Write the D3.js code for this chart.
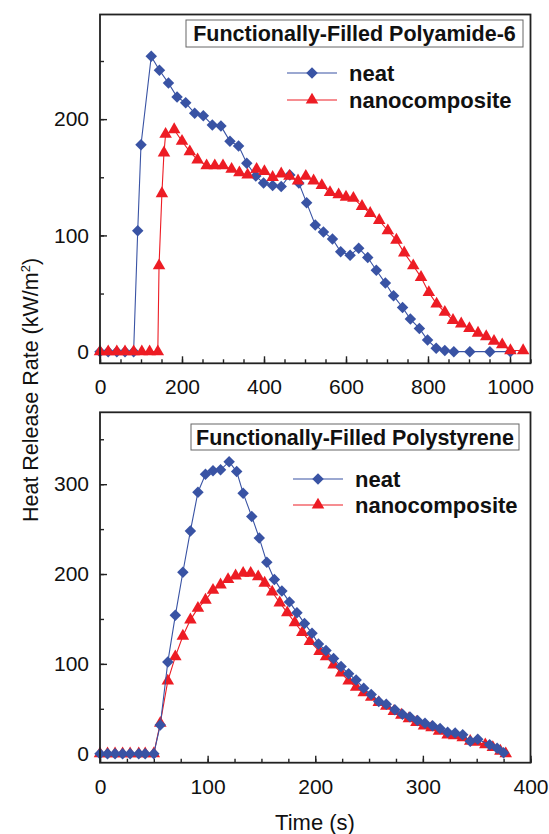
<!DOCTYPE html>
<html>
<head>
<meta charset="utf-8">
<script src="https://cdn.jsdelivr.net/npm/d3@7"></script>
<style>
  body { margin: 0; background: #fff; }
  svg { font-family: "Liberation Sans", Arial, sans-serif; }
</style>
</head>
<body>
<svg id="chart" width="549" height="834"></svg>
<script>
// Polyamide-6 panel (top)
var pa_neat_t = [0, 20, 41, 61, 82, 92, 100, 125, 145, 167, 188, 209, 231, 252, 274, 295, 317, 338, 358, 380,
  399, 421, 442, 463, 485, 504, 525, 545, 567, 587, 610, 631, 653, 674, 696, 716, 738, 757, 779, 799,
  820, 841, 863, 902, 951, 1001];
var pa_neat_hrr = [0, 0, 0, 0, 0, 104, 178, 254, 242, 231, 219, 214, 205, 203, 195, 194, 181, 177, 162, 151,
  145, 143, 142, 152, 145, 128, 109, 103, 97, 86, 83, 89, 81, 70, 59, 48, 38, 28, 20, 10,
  3, 1, 0, 0, 0, 0];
var pa_nano_t = [0, 20, 41, 61, 82, 102, 121, 141, 144, 151, 156, 160, 181, 200, 219, 238, 260, 280, 300, 321,
  340, 360, 382, 401, 421, 442, 462, 483, 502, 521, 541, 561, 582, 600, 618, 639, 659, 681, 702, 723,
  742, 764, 783, 802, 821, 841, 861, 881, 901, 922, 942, 961, 981, 1001, 1032];
var pa_nano_hrr = [0, 0, 0, 0, 0, 0, 0, 0, 74, 136, 171, 187, 191, 181, 172, 165, 160, 160, 160, 157,
  154, 152, 157, 155, 150, 153, 151, 147, 151, 147, 143, 137, 135, 133, 132, 125, 119, 113, 104, 96,
  85, 74, 64, 51, 41, 34, 27, 24, 20, 16, 13, 9, 6, 1, 1];

// Polystyrene panel (bottom)
var ps_neat_t = [0, 7, 14, 21, 28, 36, 42, 50, 56, 63, 70, 77, 84, 91, 98, 105, 112, 120, 127, 133,
  141, 148, 155, 162, 169, 176, 183, 190, 197, 203, 210, 217, 224, 231, 238, 245, 252, 259, 266, 274,
  281, 288, 295, 302, 309, 316, 323, 330, 337, 344, 351, 362, 369, 375];
var ps_neat_hrr = [0, 0, 0, 0, 0, 0, 0, 0, 32, 102, 154, 202, 248, 291, 311, 315, 316, 325, 314, 290,
  264, 240, 213, 194, 181, 169, 157, 145, 134, 122, 115, 106, 97, 89, 82, 73, 66, 58, 55, 49,
  44, 41, 37, 34, 31, 28, 24, 23, 21, 14, 16, 10, 6, 1];
var ps_nano_t = [0, 7, 14, 21, 28, 36, 42, 50, 56, 63, 70, 77, 84, 91, 98, 105, 112, 119, 126, 133,
  140, 147, 153, 160, 167, 174, 181, 188, 195, 204, 210, 217, 224, 231, 238, 245, 252, 259, 266, 273,
  280, 287, 294, 301, 308, 315, 323, 329, 337, 344, 350, 358, 365, 372, 377];
var ps_nano_hrr = [0, 0, 0, 0, 0, 0, 0, 0, 34, 81, 108, 131, 149, 162, 171, 182, 188, 194, 198, 201,
  201, 197, 190, 180, 168, 157, 146, 135, 125, 114, 108, 99, 90, 81, 74, 68, 63, 57, 53, 47,
  43, 39, 35, 31, 29, 25, 21, 20, 18, 14, 13, 10, 7, 3, 0];

var series_names = ["neat", "nanocomposite"];
var pa_x_ticks = [0, 200, 400, 600, 800, 1000];
var pa_y_ticks = [0, 100, 200];
var ps_x_ticks = [0, 100, 200, 300, 400];
var ps_y_ticks = [0, 100, 200, 300];

var blue = "#3953a4";
var red = "#ed1c24";

var svg = d3.select("#chart");

function zip(t, v) {
  return t.map(function(d, i) { return {t: d, v: v[i]}; });
}

function draw_panel(opts) {
  var x = d3.scaleLinear().domain(opts.xdom).range([opts.left, opts.right]);
  var y = d3.scaleLinear().domain(opts.ydom).range([opts.bottom, opts.top]);
  var g = svg.append("g");

  // minor ticks (inward, no labels)
  g.append("g")
    .attr("transform", "translate(0," + opts.bottom + ")")
    .call(d3.axisBottom(x).tickValues(d3.range(opts.xdom[0], opts.xdom[1] + 1, opts.xminor))
      .tickSize(-4).tickFormat(""));
  g.append("g")
    .attr("transform", "translate(" + opts.left + ",0)")
    .call(d3.axisLeft(y).tickValues(d3.range(0, opts.ydom[1], opts.yminor))
      .tickSize(-4).tickFormat(""));

  // major ticks
  var xa = g.append("g")
    .attr("transform", "translate(0," + opts.bottom + ")")
    .call(d3.axisBottom(x).tickValues(opts.xticks).tickFormat(d3.format("d"))
      .tickSize(-7).tickPadding(16));
  var ya = g.append("g")
    .attr("transform", "translate(" + opts.left + ",0)")
    .call(d3.axisLeft(y).tickValues(opts.yticks).tickFormat(d3.format("d"))
      .tickSize(-7).tickPadding(11));

  g.selectAll(".domain").remove();
  g.selectAll(".tick line").attr("stroke", "#222").attr("stroke-width", 1.4);
  xa.selectAll(".tick text").attr("font-size", 21).attr("font-family", null).attr("fill", "#111");
  ya.selectAll(".tick text").attr("font-size", 21).attr("font-family", null).attr("fill", "#111");

  var line = d3.line().x(function(d) { return x(d.t); }).y(function(d) { return y(d.v); });
  var diamond = d3.symbol().type(d3.symbolSquare).size(66);
  var triangle = d3.symbol().type(d3.symbolTriangle).size(68);

  var series = [
    {data: zip(opts.neat_t, opts.neat_v), color: blue, sym: diamond, rot: 45},
    {data: zip(opts.nano_t, opts.nano_v), color: red, sym: triangle, rot: 0}
  ];
  if (opts.neat_on_top) series.reverse();

  series.forEach(function(s) {
    g.append("path")
      .datum(s.data)
      .attr("fill", "none")
      .attr("stroke", s.color)
      .attr("stroke-width", 1.1)
      .attr("d", line);
    g.selectAll(null)
      .data(s.data)
      .enter().append("path")
      .attr("d", s.sym)
      .attr("fill", s.color)
      .attr("transform", function(d) {
        return "translate(" + x(d.t) + "," + y(d.v) + ") rotate(" + s.rot + ")";
      });
  });

  // frame
  g.append("rect")
    .attr("x", opts.left).attr("y", opts.top)
    .attr("width", opts.right - opts.left).attr("height", opts.bottom - opts.top)
    .attr("fill", "none").attr("stroke", "#222").attr("stroke-width", 1.8);

  // title box
  var tb = g.append("g");
  tb.append("rect")
    .attr("x", opts.title_box[0]).attr("y", opts.title_box[1])
    .attr("width", opts.title_box[2]).attr("height", opts.title_box[3])
    .attr("fill", "#fff").attr("stroke", "#666").attr("stroke-width", 1);
  tb.append("text")
    .attr("x", opts.title_box[0] + opts.title_box[2] / 2)
    .attr("y", opts.title_box[1] + opts.title_box[3] / 2 + 7.5)
    .attr("text-anchor", "middle")
    .attr("font-size", 21.5).attr("font-weight", "bold").attr("fill", "#111")
    .text(opts.title);

  // legend
  var lg = [
    {name: series_names[0], color: blue, sym: diamond, rot: 45},
    {name: series_names[1], color: red, sym: triangle, rot: 0}
  ];
  lg.forEach(function(d, i) {
    var ly = opts.legend_y + i * opts.legend_gap;
    g.append("line")
      .attr("x1", opts.legend_x).attr("x2", opts.legend_x + 50)
      .attr("y1", ly).attr("y2", ly)
      .attr("stroke", d.color).attr("stroke-width", 1.1);
    g.append("path")
      .attr("d", d.sym)
      .attr("fill", d.color)
      .attr("transform", "translate(" + (opts.legend_x + 25) + "," + ly + ") rotate(" + d.rot + ")");
    g.append("text")
      .attr("x", opts.legend_x + 62).attr("y", ly + 7.5)
      .attr("font-size", 22).attr("font-weight", "bold").attr("fill", "#111")
      .text(d.name);
  });
}

draw_panel({
  left: 100, right: 530.5, top: 14.5, bottom: 363.3,
  xdom: [0, 1050], ydom: [-10, 290], xminor: 50, yminor: 50,
  xticks: pa_x_ticks, yticks: pa_y_ticks,
  neat_t: pa_neat_t, neat_v: pa_neat_hrr, nano_t: pa_nano_t, nano_v: pa_nano_hrr,
  neat_on_top: false,
  title: "Functionally-Filled Polyamide-6", title_box: [186, 20, 337, 27],
  legend_x: 287, legend_y: 73, legend_gap: 27
});

draw_panel({
  left: 100, right: 530.5, top: 412.3, bottom: 762.7,
  xdom: [0, 400], ydom: [-10, 380], xminor: 25, yminor: 50,
  xticks: ps_x_ticks, yticks: ps_y_ticks,
  neat_t: ps_neat_t, neat_v: ps_neat_hrr, nano_t: ps_nano_t, nano_v: ps_nano_hrr,
  neat_on_top: true,
  title: "Functionally-Filled Polystyrene", title_box: [191, 424, 328, 26],
  legend_x: 293, legend_y: 479, legend_gap: 26
});

// axis titles
svg.append("text")
  .attr("transform", "translate(38,390) rotate(-90)")
  .attr("text-anchor", "middle")
  .attr("font-size", 21.5).attr("fill", "#111")
  .text("Heat Release Rate (kW/m")
  .append("tspan").attr("dy", -8).attr("font-size", 13).text("2")
  .select(function() { return this.parentNode; })
  .append("tspan").attr("dy", 8).text(")");

svg.append("text")
  .attr("x", 315).attr("y", 830)
  .attr("text-anchor", "middle")
  .attr("font-size", 22).attr("fill", "#111")
  .text("Time (s)");
</script>
</body>
</html>
